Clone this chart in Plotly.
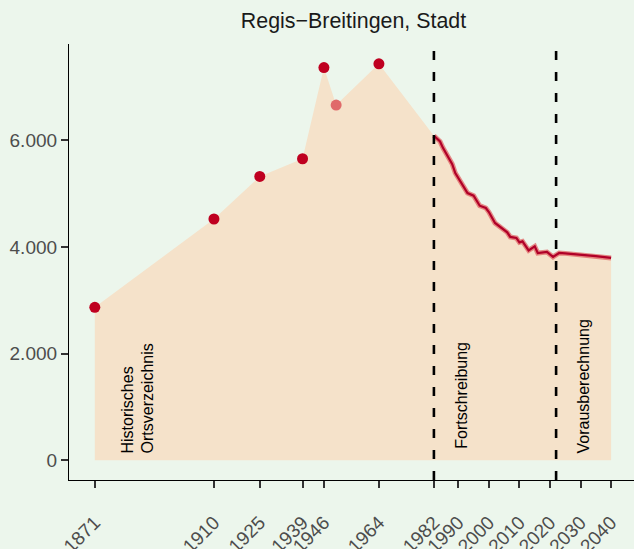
import plotly.graph_objects as go

# ---------------- data ----------------
hist_years = [1871, 1910, 1925, 1939, 1946, 1950, 1964]
hist_values = [2868, 4525, 5323, 5655, 7366, 6662, 7436]

line_years = [1982, 1984, 1985, 1987, 1988, 1989, 1991, 1993, 1995, 1997, 1999,
              2000, 2002, 2004, 2006, 2007, 2009, 2010, 2011, 2013, 2015, 2016,
              2019, 2021, 2023, 2025, 2030, 2035, 2040]
line_values = [6086, 5980, 5855, 5649, 5555, 5387, 5211, 5012, 4962, 4774, 4731,
               4656, 4450, 4356, 4274, 4188, 4169, 4086, 4105, 3936, 4011, 3887,
               3906, 3813, 3887, 3880, 3858, 3828, 3794]

tick_years = [1871, 1910, 1925, 1939, 1946, 1964, 1982, 1990, 2000, 2010, 2020, 2030, 2040]
tick_labels = [str(y) for y in tick_years]
y_ticks = [0, 2000, 4000, 6000]
y_tick_labels = ["0", "2.000", "4.000", "6.000"]

period_breaks = [1982, 2022]
period_labels = ["Historisches<br>Ortsverzeichnis", "Fortschreibung", "Vorausberechnung"]
period_label_x = [1885, 1991, 2031]
period_label_y = [80, 175, 80]

title = "Regis\u2212Breitingen, Stadt"

# ---------------- styling ----------------
BG = "#ecf6ec"
FILL = "#f5e2ca"
DARK = "#bf0020"
LIGHT = "#e06a6a"
FONT = "Liberation Sans, Arial, sans-serif"

fig = go.Figure()

# area
fig.add_trace(go.Scatter(
    x=hist_years + line_years, y=hist_values + line_values,
    mode="lines", line=dict(width=0, color=FILL),
    fill="tozeroy", fillcolor=FILL, hoverinfo="skip", showlegend=False))

# line halo + line
fig.add_trace(go.Scatter(x=line_years, y=line_values, mode="lines",
                         line=dict(color="rgba(224,100,100,0.75)", width=5),
                         showlegend=False))
fig.add_trace(go.Scatter(x=line_years, y=line_values, mode="lines",
                         line=dict(color="#b00028", width=2.2),
                         showlegend=False))

# points
point_colors = [DARK, DARK, DARK, DARK, DARK, LIGHT, DARK]
fig.add_trace(go.Scatter(x=hist_years, y=hist_values, mode="markers",
                         marker=dict(size=11, color=point_colors,
                                     line=dict(width=0)),
                         showlegend=False))

# dashed period separators
for b in period_breaks:
    fig.add_shape(type="line", xref="x", yref="paper", x0=b, x1=b, y0=0, y1=1,
                  line=dict(color="black", width=2.6, dash="9px,12px"), layer="above")

# period labels
for txt, xx, yy in zip(period_labels, period_label_x, period_label_y):
    fig.add_annotation(x=xx, y=yy, xref="x", yref="y", text=txt, showarrow=False,
                       textangle=-90, xanchor="center", yanchor="bottom", align="left",
                       font=dict(family=FONT, size=16, color="black"))

fig.update_layout(
    width=634, height=549,
    paper_bgcolor=BG, plot_bgcolor=BG,
    margin=dict(l=69, r=0, t=44, b=69, autoexpand=False),
    title=dict(text=title, x=0.5036, xref="paper", xanchor="center",
               y=1 - 20.5 / 549, yref="container", yanchor="middle",
               font=dict(family=FONT, size=21.4, color="#1a1a1a")),
    showlegend=False,
    font=dict(family=FONT),
)

fig.update_xaxes(range=[1862.55, 2047.5], tickmode="array", tickvals=tick_years,
                 ticktext=tick_labels, tickangle=-45, ticks="outside", ticklen=7,
                 tickwidth=2, tickcolor="#333333", showline=True, linecolor="black",
                 linewidth=1.2, showgrid=False, zeroline=False, automargin=False,
                 tickfont=dict(family=FONT, size=19, color="#4d4d4d"),
                 ticklabelstandoff=16)
fig.update_yaxes(range=[-372, 7808], tickmode="array", tickvals=y_ticks,
                 ticktext=y_tick_labels, ticks="outside", ticklen=7, tickwidth=2,
                 tickcolor="#333333", showline=True, linecolor="black", linewidth=1.2,
                 showgrid=False, zeroline=False, automargin=False,
                 tickfont=dict(family=FONT, size=19, color="#4d4d4d"))

fig.write_html("out.html", config={"displayModeBar": False},
               post_script="document.body.style.margin='0';document.body.style.background='%s';" % BG)
